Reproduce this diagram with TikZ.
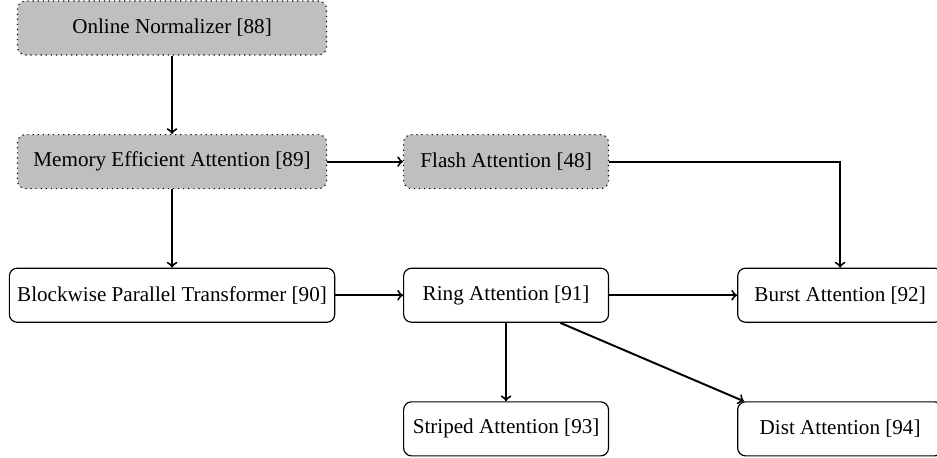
\documentclass[tikz,border=0pt]{standalone}
\usepackage{fontspec}
\setmainfont{Liberation Serif}
\usepackage{tikz}
\usetikzlibrary{arrows,calc}

\begin{document}
\begin{tikzpicture}[node distance={2.4cm},thick,
    main/.style = {draw, semithick, rounded corners=4pt, minimum width=3.68cm,
      minimum height=0.97cm, inner xsep=4pt, font=\fontsize{10.8}{13}\selectfont},
    grey/.style = {main, dotted, fill=gray!50},
    wide/.style = {minimum width=5.55cm}]
      \useasboundingbox (-3.09,0.503) rectangle (13.74,-7.72);
      \node[grey,wide](norm){Online Normalizer [88]};
      \node[grey,wide](mem)[below of=norm]{Memory Efficient Attention [89]};
      \node[grey](flash)[node distance=6cm, right of=mem]{Flash Attention [48]};
      \node[main](bpt)[below of=mem]{Blockwise Parallel Transformer [90]};
      \node[main](ring)[node distance=6cm, right of=bpt]{Ring Attention [91]};
      \node[main](burst)[node distance=6cm, right of=ring]{Burst Attention [92]};
      \node[main](striped)[below of=ring]{Striped Attention [93]};
      \node[main](dist)[below of=burst]{Dist Attention [94]};

      \path[->, every edge/.append style={solid, line width=1pt}]
      (norm) edge (mem)
      (mem) edge (flash)
      (mem) edge (bpt)
      (flash) edge[to path={-| (\tikztotarget)}] (burst)

      (bpt) edge (ring)
      (ring) edge (burst)
      (ring) edge (striped)
      (ring.-27) edge (dist.164)
      ;

    \end{tikzpicture}
\end{document}
